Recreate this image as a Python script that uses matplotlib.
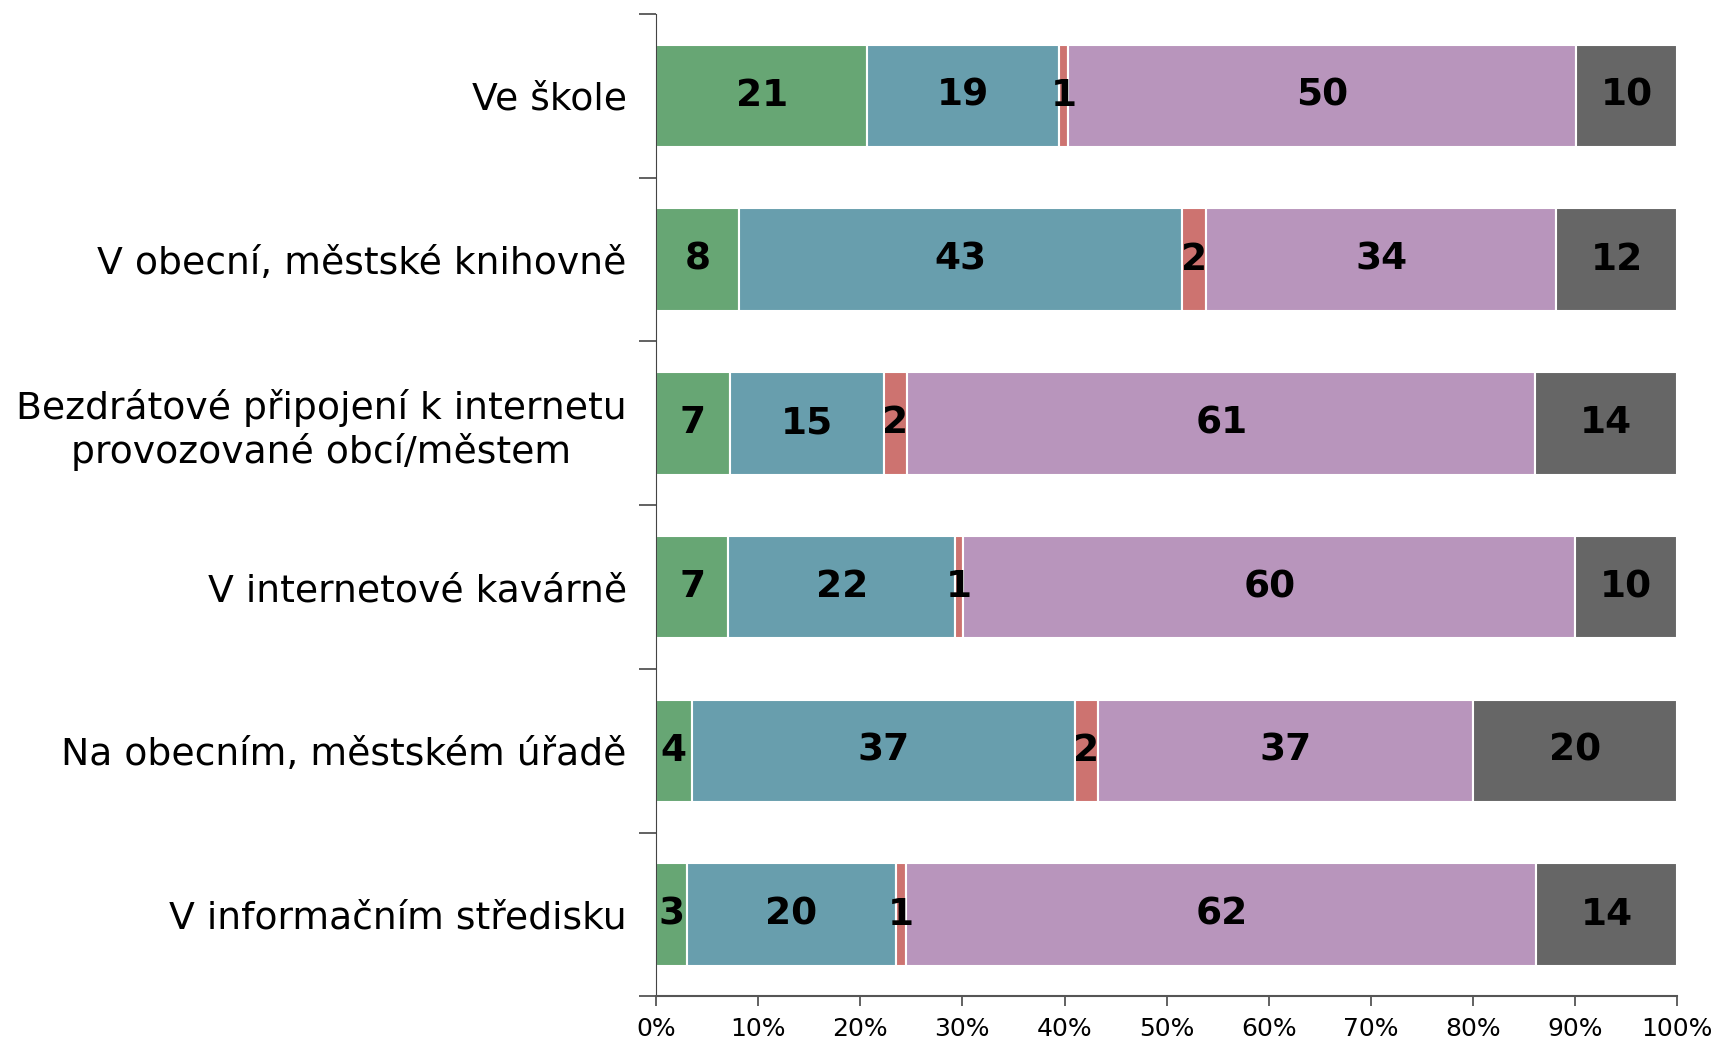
import matplotlib
matplotlib.use("Agg")
import matplotlib.pyplot as plt
import numpy as np

categories = [
    "Ve škole",
    "V obecní, městské knihovně",
    "Bezdrátové připojení k internetu\nprovozované obcí/městem",
    "V internetové kavárně",
    "Na obecním, městském úřadě",
    "V informačním středisku",
]
s_green = [20.7, 8.1, 7.2, 7.1, 3.5, 3.0]
s_blue = [18.8, 43.4, 15.1, 22.2, 37.5, 20.5]
s_red = [0.8, 2.4, 2.3, 0.8, 2.3, 1.0]
s_purple = [49.8, 34.2, 61.5, 59.9, 36.7, 61.7]
s_gray = [9.9, 11.9, 13.9, 10.0, 20.0, 13.8]
labels_green = [21, 8, 7, 7, 4, 3]
labels_blue = [19, 43, 15, 22, 37, 20]
labels_red = [1, 2, 2, 1, 2, 1]
labels_purple = [50, 34, 61, 60, 37, 62]
labels_gray = [10, 12, 14, 10, 20, 14]
xtick_labels = ["0%", "10%", "20%", "30%", "40%", "50%", "60%", "70%", "80%", "90%", "100%"]

series = [s_green, s_blue, s_red, s_purple, s_gray]
series_labels = [labels_green, labels_blue, labels_red, labels_purple, labels_gray]
colors = ["#67A674", "#689EAD", "#CD7370", "#B895BC", "#666666"]

plt.rcParams['font.family'] = ['DejaVu Sans']
fig = plt.figure(figsize=(17.15, 10.43), dpi=100)
ax = fig.add_axes([0.3825, 0.0446, 0.5955, 0.942])

n = len(categories)
y = np.arange(n)
left = np.zeros(n)
for vals, labs, col in zip(series, series_labels, colors):
    vals = np.array(vals)
    ax.barh(y, vals, left=left, height=0.625, color=col, edgecolor="white", linewidth=1.5)
    for i in range(n):
        ax.text(left[i] + vals[i] / 2, y[i], str(labs[i]), ha="center", va="center",
                fontsize=27, fontweight="bold", color="black")
    left = left + vals

ax.set_xlim(0, 100)
ax.set_ylim(n - 0.5, -0.5)
ax.set_yticks(y)
ax.set_yticklabels(categories, fontsize=27.2, multialignment="center")
ax.tick_params(axis="y", which="major", length=0, pad=21)
ax.set_yticks(np.arange(-0.5, n, 1), minor=True)
ax.tick_params(axis="y", which="minor", length=12, width=1.3, color="#555555")
ax.set_xticks(np.arange(0, 101, 10))
ax.set_xticklabels(xtick_labels, fontsize=18)
ax.tick_params(axis="x", length=7, width=1.3, color="#555555", pad=8)
for s in ["top", "right"]:
    ax.spines[s].set_visible(False)
ax.spines["left"].set_color("#444444")
ax.spines["bottom"].set_color("#555555")
ax.spines["bottom"].set_linewidth(1.5)

fig.savefig("out.png", dpi=100)
